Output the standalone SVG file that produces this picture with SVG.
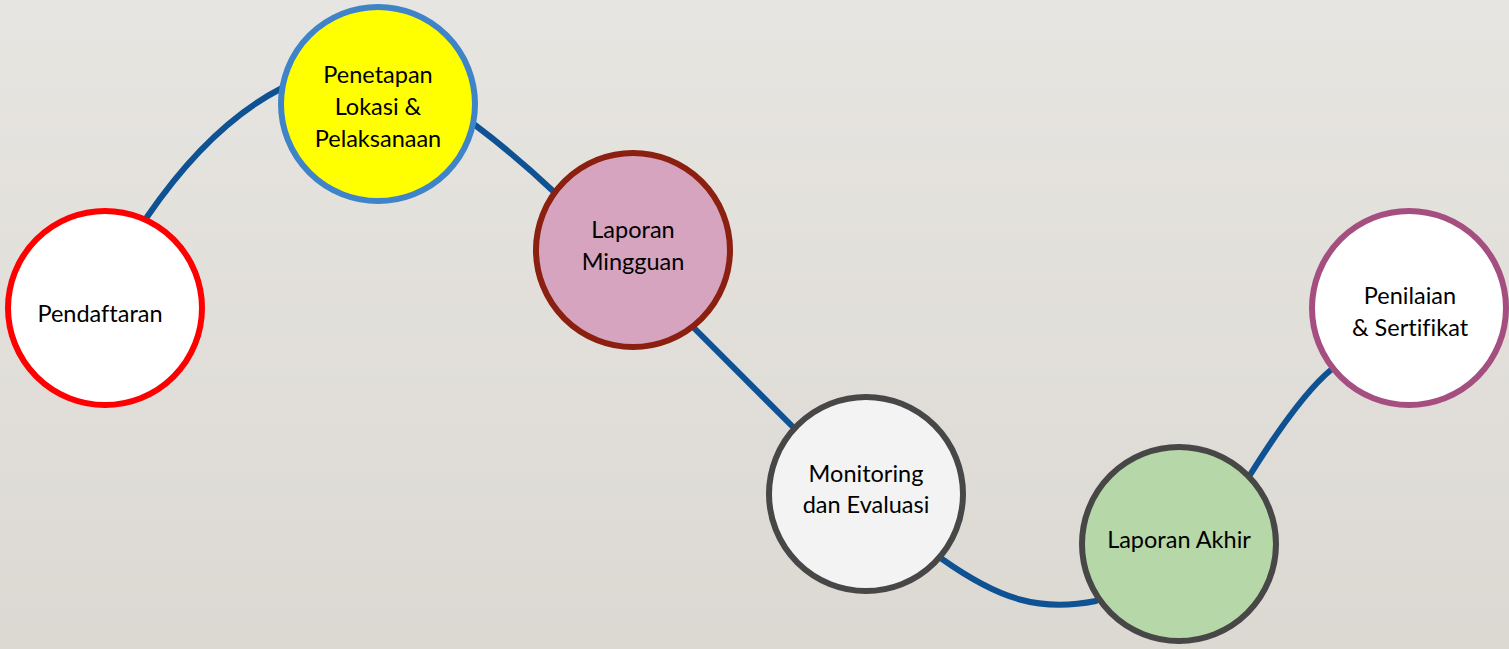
<svg xmlns="http://www.w3.org/2000/svg" width="1509" height="649" viewBox="0 0 1509 649">
<defs>
<linearGradient id="bg" x1="0" y1="0" x2="0" y2="1">
<stop offset="0" stop-color="#e7e5e1"/>
<stop offset="1" stop-color="#dcd9d3"/>
</linearGradient>
<style>
.conn{fill:none;stroke:#0f5294;stroke-width:6;stroke-linecap:round}
.node circle{stroke-width:6}
.node text{font-family:Lato,"Open Sans","Liberation Sans",sans-serif;font-size:23.5px;fill:#000;text-anchor:middle;font-variant-ligatures:none}
</style>
</defs>
<rect width="1509" height="649" fill="url(#bg)"/>
<g id="connectors">
<path class="conn" d="M147,217 Q210,125 282,88"/>
<path class="conn" d="M475,125 Q515,155 553,191"/>
<path class="conn" d="M695,329 L792,426"/>
<path class="conn" d="M942,559 C1000,600 1040,612 1096,601"/>
<path class="conn" d="M1250,475 Q1300,395 1332,369"/>
</g>
<g id="pendaftaran" class="node">
<circle cx="105" cy="308" r="97" fill="#ffffff" stroke="#ff0000"/>
<text x="100" y="322">Pendaftaran</text>
</g>
<g id="penetapan" class="node">
<circle cx="378" cy="104" r="97" fill="#ffff00" stroke="#3f84c8"/>
<text x="378" y="83">Penetapan</text>
<text x="378" y="115">Lokasi &amp;</text>
<text x="378" y="147">Pelaksanaan</text>
</g>
<g id="laporan-mingguan" class="node">
<circle cx="633" cy="250" r="97" fill="#d6a4bf" stroke="#8b1f10"/>
<text x="633" y="238">Laporan</text>
<text x="633" y="270">Mingguan</text>
</g>
<g id="monitoring" class="node">
<circle cx="866" cy="494" r="97" fill="#f3f3f3" stroke="#474747"/>
<text x="866" y="482">Monitoring</text>
<text x="866" y="513">dan Evaluasi</text>
</g>
<g id="laporan-akhir" class="node">
<circle cx="1179" cy="544" r="97" fill="#b6d7a7" stroke="#474747"/>
<text x="1179" y="548">Laporan Akhir</text>
</g>
<g id="penilaian" class="node">
<circle cx="1409" cy="308" r="97" fill="#ffffff" stroke="#a44f80"/>
<text x="1410" y="304">Penilaian</text>
<text x="1410" y="336">&amp; Sertifikat</text>
</g>
</svg>
